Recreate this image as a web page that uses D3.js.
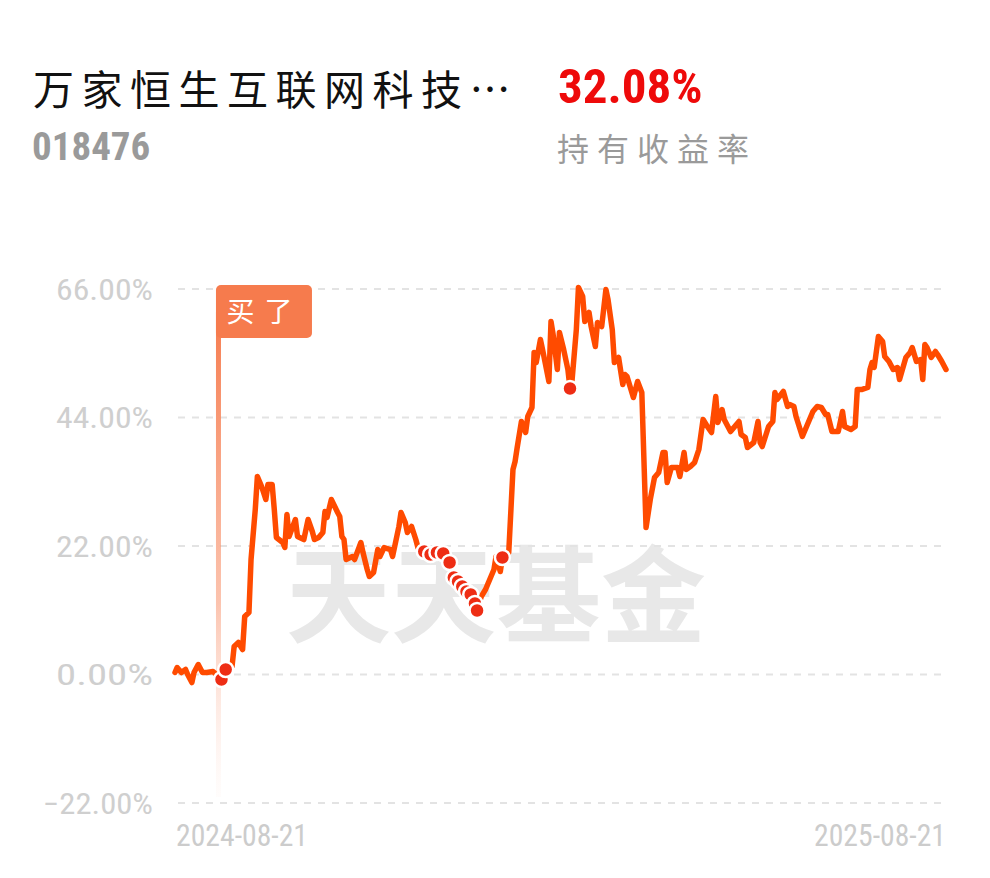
<!DOCTYPE html>
<html><head><meta charset="utf-8">
<script src="https://cdn.jsdelivr.net/npm/d3@7"></script>
<style>
html,body{margin:0;padding:0;background:#fff;}
svg{display:block;}
</style></head>
<body>
<svg id="chart" width="990" height="878"></svg>
<script>
// ---- data ----
const startDate = "2024-08-21";
const dayOffsets = [0,1,3,5,6,8,9,11,13,15,18,22,24,27,28,30,32,33,35,36,38,39,41,43,44,46,47,48,51,52,53,54,57,58,61,63,65,66,68,70,71,72,74,77,78,79,80,81,84,85,88,89,91,92,94,96,97,99,102,103,106,107,109,110,112,114,115,118,121,124,127,130,132,134,136,138,140,142,143,145,147,149,151,152,154,155,158,160,161,162,164,166,167,169,170,171,173,174,177,178,179,181,182,184,186,187,188,190,191,193,194,196,197,199,200,202,204,205,207,208,210,212,213,214,217,219,221,223,225,227,229,231,232,233,235,238,239,241,242,244,246,248,250,252,254,256,257,259,260,263,265,267,268,270,271,274,276,277,278,281,283,284,285,288,290,291,293,294,297,299,302,304,306,308,309,311,314,316,317,320,322,323,325,328,329,330,331,333,335,336,338,340,342,343,346,348,349,351,353,354,355,356,358,360,361,363,365];
const returns = [0.34,1.20,0.34,0.86,0.00,-1.37,0.34,1.71,0.34,0.34,0.51,-0.86,0.86,1.37,4.79,5.48,4.28,9.93,10.61,19.69,28.25,33.90,32.19,29.96,32.53,32.53,28.25,23.46,22.60,21.74,27.39,23.63,26.54,23.63,23.11,26.54,24.48,23.11,23.46,24.31,27.91,26.88,29.96,27.73,27.05,23.63,23.11,19.69,20.20,19.69,22.60,20.89,17.98,16.78,17.46,21.40,20.20,21.74,21.40,20.20,25.34,27.73,26.02,24.31,25.34,23.11,21.74,21.06,20.54,20.89,20.72,19.17,16.61,15.92,15.07,14.21,13.70,12.16,10.96,13.35,14.55,16.26,17.98,20.20,17.63,20.03,20.89,35.10,36.47,38.86,43.31,41.43,44.17,45.71,55.13,53.42,57.35,55.64,50.16,60.44,58.21,52.22,58.55,55.64,52.22,48.96,50.50,59.06,66.26,64.71,60.44,61.98,59.58,56.15,60.26,59.58,65.91,64.20,59.06,53.42,54.27,49.65,51.36,51.02,47.42,50.16,48.28,25.17,29.96,33.73,34.58,38.01,38.01,32.87,35.44,35.44,33.90,38.01,35.10,35.61,36.30,38.52,43.66,42.46,41.43,47.59,43.14,45.37,43.66,41.60,42.46,43.31,41.09,40.57,38.86,39.72,43.31,39.72,39.03,42.46,43.31,48.28,47.08,48.45,45.88,46.23,45.88,44.17,40.75,42.46,45.03,45.88,45.71,44.51,44.51,41.60,41.60,45.03,42.46,41.94,42.46,48.79,48.79,49.14,52.22,53.42,52.56,57.87,57.01,54.44,53.59,52.22,52.56,50.50,54.27,55.13,55.98,53.59,53.93,50.50,56.50,55.98,54.27,55.30,54.79,53.59,52.22];
const tradeDayOffsets = [22,24,118,121,124,127,130,132,134,136,138,140,142,143,155,187];
const buyDayOffset = 22;
const yTicks = [-22, 0, 22, 44, 66];
const xTickLabels = ["2024-08-21", "2025-08-21"];
const fundName = "万家恒生互联网科技…";
const fundCode = "018476";
const holdReturn = "32.08%";
const holdReturnLabel = "持有收益率";
const buyLabel = "买了";
const watermark = "天天基金";

// ---- build ----
const parse = d3.timeParse("%Y-%m-%d");
const t0 = parse(startDate);
const series = dayOffsets.map((d, i) => ({date: d3.timeDay.offset(t0, d), value: returns[i], off: d}));
const trades = tradeDayOffsets.map(o => series.find(s => s.off === o));
const buyPoint = series.find(s => s.off === buyDayOffset);

const svg = d3.select("#chart");
const x = d3.scaleTime().domain([t0, parse(xTickLabels[1])]).range([175, 946]);
const y = d3.scaleLinear().domain([-22, 66]).range([803, 289]);

const numFont = "'Liberation Sans Narrow','Roboto Condensed','Liberation Sans',sans-serif";
const cjk = "'Noto Sans CJK SC','Noto Sans',sans-serif";

// header
svg.append("text").attr("x", 33).attr("y", 105).attr("font-family", cjk).attr("font-size", 41)
  .attr("letter-spacing", 7.5).attr("fill", "#111").text(fundName);
svg.append("text").attr("x", 32).attr("y", 160).attr("font-family", numFont).attr("font-weight", "bold")
  .attr("font-size", 39).attr("fill", "#9a9a9a").text(fundCode);
svg.append("text").attr("x", 558).attr("y", 103).attr("font-family", numFont).attr("font-weight", "bold")
  .attr("font-size", 49).attr("fill", "#ee0a0a").text(holdReturn);
svg.append("text").attr("x", 557).attr("y", 161).attr("font-family", cjk).attr("font-size", 32)
  .attr("letter-spacing", 8).attr("fill", "#9a9a9a").text(holdReturnLabel);

// watermark
svg.append("text").attr("x", 496).attr("y", 634).attr("text-anchor", "middle")
  .attr("font-family", cjk).attr("font-weight", "bold").attr("font-size", 105)
  .attr("fill", "#e8e8e8").text(watermark);

// grid
const grid = svg.append("g");
grid.selectAll("line").data(yTicks).join("line")
  .attr("x1", 178).attr("x2", 946)
  .attr("y1", d => y(d)).attr("y2", d => y(d))
  .attr("stroke", "#e3e3e3").attr("stroke-width", 2).attr("stroke-dasharray", "7,7");

// y axis labels via axis generator
const yAxis = d3.axisLeft(y).tickValues(yTicks).tickSize(0).tickPadding(0)
  .tickFormat(d => d3.format(".2f")(d) + "%");
const ya = svg.append("g").attr("transform", "translate(153,0)").call(yAxis);
ya.select(".domain").remove();
ya.selectAll("text").attr("font-family", numFont).attr("font-size", 29)
  .attr("fill", "#cfcfcf").attr("dy", "0.36em")
  .attr("textLength", d => d < 0 ? 110 : 97).attr("lengthAdjust", "spacingAndGlyphs");

// x axis labels
const xAxis = d3.axisBottom(x).tickValues(xTickLabels.map(parse)).tickSize(0).tickPadding(0)
  .tickFormat(d3.timeFormat("%Y-%m-%d"));
const xa = svg.append("g").attr("transform", "translate(0,822)").call(xAxis);
xa.select(".domain").remove();
xa.selectAll("text").attr("font-family", numFont).attr("font-size", 32).attr("fill", "#cccccc")
  .attr("text-anchor", (d, i) => i === 0 ? "start" : "end").attr("dy", "0.75em")
  .attr("textLength", 132).attr("lengthAdjust", "spacingAndGlyphs");
xa.selectAll(".tick").attr("transform", (d, i) => `translate(${i === 0 ? x(d) + 1 : x(d)},0)`);

// buy marker
const defs = svg.append("defs");
const grad = defs.append("linearGradient").attr("id", "buyGrad").attr("x1", 0).attr("y1", 0).attr("x2", 0).attr("y2", 1);
grad.append("stop").attr("offset", "0%").attr("stop-color", "#f67a4c").attr("stop-opacity", 1);
grad.append("stop").attr("offset", "60%").attr("stop-color", "#f99b78").attr("stop-opacity", 0.6);
grad.append("stop").attr("offset", "100%").attr("stop-color", "#fde3da").attr("stop-opacity", 0.1);
const bx = x(buyPoint.date) - 3;
svg.append("rect").attr("x", bx - 2.5).attr("y", 312).attr("width", 5).attr("height", 485)
  .attr("fill", "url(#buyGrad)");
svg.append("rect").attr("x", bx - 2.5).attr("y", 285).attr("width", 96).attr("height", 53).attr("rx", 5)
  .attr("fill", "#f67b4d");
svg.append("text").attr("x", bx + 46).attr("y", 322).attr("text-anchor", "middle")
  .attr("font-family", cjk).attr("font-size", 28).attr("letter-spacing", 10).attr("fill", "#fff").text(buyLabel);

// line
const line = d3.line().x(d => x(d.date)).y(d => y(d.value)).curve(d3.curveLinear);
svg.append("path").datum(series).attr("d", line).attr("fill", "none")
  .attr("stroke", "#ff4b00").attr("stroke-width", 5.5).attr("stroke-linejoin", "round").attr("stroke-linecap", "round");

// trade dots
svg.append("g").selectAll("circle").data(trades).join("circle")
  .attr("cx", d => x(d.date)).attr("cy", d => y(d.value)).attr("r", 7.5)
  .attr("fill", "#ee2d14").attr("stroke", "#fff").attr("stroke-width", 2.5);
</script>
</body></html>
